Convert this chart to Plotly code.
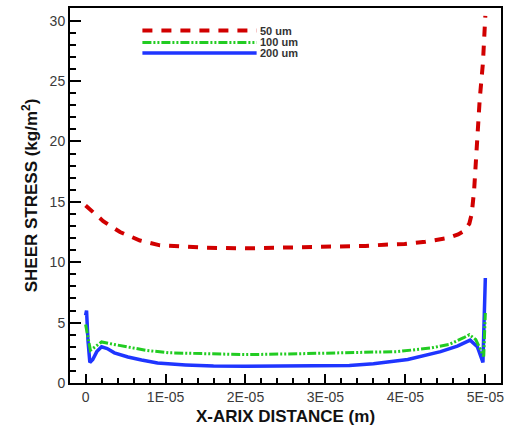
import plotly.graph_objects as go

# Shear stress along the channel for three channel widths
x_50 = [0, 0.22, 0.43, 0.68, 0.93, 1.17, 1.5, 2.0, 2.45, 3.0, 3.5, 3.74, 3.99, 4.25,
        4.53, 4.66, 4.74, 4.80, 4.83, 4.86, 4.89, 4.93, 4.97, 4.99, 5.0]
y_50 = [14.7, 13.4, 12.5, 11.8, 11.4, 11.3, 11.2, 11.15, 11.2, 11.25, 11.35, 11.45, 11.5,
        11.7, 12.0, 12.3, 12.6, 13.2, 14.0, 16.0, 19.5, 23.5, 26.5, 28.5, 30.4]

x_100 = [0, 0.02, 0.06, 0.1, 0.2, 0.35, 0.5, 0.76, 1.05, 1.5, 2.0, 2.5, 3.0, 3.5, 3.9,
         4.32, 4.55, 4.73, 4.8, 4.88, 4.98, 4.99, 5.0]
y_100 = [4.85, 4.0, 2.7, 2.9, 3.4, 3.2, 3.0, 2.7, 2.5, 2.45, 2.35, 2.4, 2.45, 2.5, 2.6,
         2.9, 3.2, 3.75, 4.0, 3.6, 2.2, 4.0, 5.8]

x_200 = [0.0, 0.012, 0.03, 0.053, 0.09, 0.14, 0.2, 0.27, 0.36, 0.53, 0.7, 0.9, 1.25, 1.6,
         2.0, 2.5, 3.0, 3.3, 3.6, 4.03, 4.44, 4.65, 4.81, 4.9, 4.97, 4.985, 5.0]
y_200 = [5.6, 6.0, 3.5, 1.7, 1.95, 2.6, 3.0, 2.85, 2.5, 2.15, 1.9, 1.65, 1.5, 1.4, 1.38,
         1.38, 1.4, 1.45, 1.6, 1.95, 2.6, 3.05, 3.55, 3.0, 1.7, 4.5, 8.7]

series_names = ["50 um", "100 um", "200 um"]
x_scale = 1e-5  # x arrays are stored in units of 1E-05 m

x_tickvals = [0, 1e-5, 2e-5, 3e-5, 4e-5, 5e-5]
x_ticktext = ["0", "1E-05", "2E-05", "3E-05", "4E-05", "5E-05"]

RED, GREEN, BLUE = "#d10000", "#22cc22", "#1f35ff"
RED_DASH = "10px,9px"
GREEN_DASH = "9px,2px,2px,2px,2px,2px"

fig = go.Figure()
fig.add_trace(go.Scatter(x=[v * x_scale for v in x_200], y=y_200, mode="lines",
                         name=series_names[2], line=dict(color=BLUE, width=3.5)))
fig.add_trace(go.Scatter(x=[v * x_scale for v in x_100], y=y_100, mode="lines",
                         name=series_names[1],
                         line=dict(color=GREEN, width=3, dash=GREEN_DASH)))
fig.add_trace(go.Scatter(x=[v * x_scale for v in x_50], y=y_50, mode="lines",
                         name=series_names[0],
                         line=dict(color=RED, width=4, dash=RED_DASH)))

# Hand-drawn key with long line samples
key = [(series_names[0], RED, 4, RED_DASH, 0.940),
       (series_names[1], GREEN, 3, GREEN_DASH, 0.908),
       (series_names[2], BLUE, 3.5, "solid", 0.880)]
for label, color, w, dash, yp in key:
    fig.add_shape(type="line", xref="paper", yref="paper", x0=0.168, x1=0.433,
                  y0=yp, y1=yp, line=dict(color=color, width=w, dash=dash))
    fig.add_annotation(xref="paper", yref="paper", x=0.436, y=yp, text=label,
                       showarrow=False, xanchor="left", yanchor="middle",
                       font=dict(family="Liberation Sans", size=11, color="#333333",
                                 weight="bold"))

axis_common = dict(
    showline=True, linecolor="black", linewidth=2, mirror=True,
    ticks="inside", tickcolor="black", tickwidth=2,
    showgrid=False, zeroline=False,
    tickfont=dict(family="Liberation Sans", size=14, color="#3a3a3a"),
)

fig.update_layout(
    width=508, height=427,
    margin=dict(l=70, r=4, t=8, b=41),
    paper_bgcolor="white", plot_bgcolor="white",
    showlegend=False,
    xaxis=dict(
        **axis_common,
        range=[-0.195e-5, 5.196e-5],
        tickmode="array", tickvals=x_tickvals, ticktext=x_ticktext, ticklen=9,
        minor=dict(ticks="inside", ticklen=5, tickcolor="black", tickwidth=1.5,
                   tick0=0, dtick=0.2e-5),
        title=dict(text="X-ARIX DISTANCE (m)", standoff=6,
                   font=dict(family="Liberation Sans", size=17, color="#111111",
                             weight="bold")),
    ),
    yaxis=dict(
        **axis_common,
        range=[0, 31.05],
        tick0=0, dtick=5, ticklen=11,
        minor=dict(ticks="inside", ticklen=6, tickcolor="black", tickwidth=1.5,
                   tick0=0, dtick=1),
        title=dict(text="SHEER STRESS (kg/m<sup>2</sup>)", standoff=8,
                   font=dict(family="Liberation Sans", size=17, color="#111111",
                             weight="bold")),
    ),
)

fig.write_html("out.html")
